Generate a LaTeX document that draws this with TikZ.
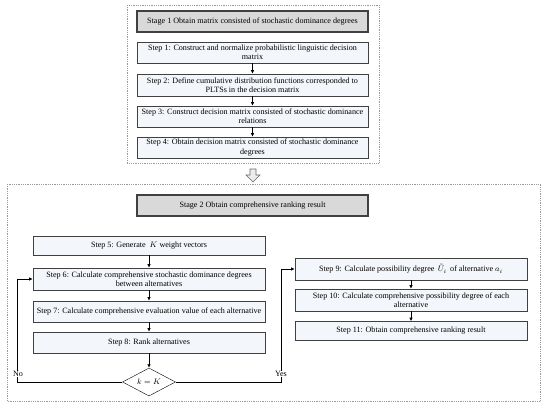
\documentclass[tikz,border=0pt]{standalone}
\usepackage{fontspec}
\setmainfont{Liberation Serif}
\usepackage{tikz}
\usetikzlibrary{arrows.meta}
\usetikzlibrary{shapes.geometric}
\usetikzlibrary{positioning}

\definecolor{boxfill}{HTML}{F3F6FA}
\definecolor{stagefill}{HTML}{D9D9D9}
\definecolor{boxline}{HTML}{404040}

\begin{document}
\begin{tikzpicture}[x=1pt, y=-1pt,
    every node/.style={font=\fontsize{8.1}{9.2}\selectfont},
    stepbox/.style={draw=boxline, fill=boxfill, line width=0.6pt, minimum width=231pt, minimum height=20pt, align=center, inner sep=0.8pt},
    stagebox/.style={draw=boxline, fill=stagefill, line width=1.1pt, minimum width=231pt, minimum height=21pt, align=center},
    testbox/.style={draw=black, fill=white, diamond, aspect=1.9, minimum width=53pt, minimum height=28pt, inner sep=0pt},
    frame/.style={draw=gray!80, dash pattern=on 0.8pt off 1pt, line width=0.6pt},
    flow/.style={-{Latex[length=3.5pt,width=3.5pt]}, line width=0.7pt},
    tag/.style={fill=white, inner sep=0.5pt}]
        \useasboundingbox (0,0) rectangle (550,413);
        \draw [frame] (127,5) rectangle (379,163);
        \draw [frame] (7,184) rectangle (540,401);

        \node [stagebox] (stage1) at (252.5,21.5) {Stage 1 Obtain matrix consisted of stochastic dominance degrees};
        \node [stepbox, minimum height=21pt] (step1) at (252.5,52.5) {Step 1: Construct and normalize probabilistic linguistic decision\\matrix};
        \node [stepbox, minimum height=22pt] (step2) at (252.5,85) {Step 2: Define cumulative distribution functions corresponded to\\PLTSs in the decision matrix};
        \node [stepbox, minimum height=21pt] (step3) at (252.5,116.5) {Step 3: Construct decision matrix consisted of stochastic dominance\\relations};
        \node [stepbox, minimum height=21pt] (step4) at (252.5,147.5) {Step 4: Obtain decision matrix consisted of stochastic dominance\\degrees};
        \draw [flow] (step1) -- (step2);
        \draw [flow] (step2) -- (step3);
        \draw [flow] (step3) -- (step4);

        \draw [draw=gray!80!black, fill=gray!15, line width=0.6pt] (250,169) -- (256,169) -- (256,175) -- (260,175) -- (253,182) -- (246,175) -- (250,175) -- cycle;

        \node [stagebox] (stage2) at (252.5,205.5) {Stage 2 Obtain comprehensive ranking result};
        \node [stepbox, minimum width=232pt, minimum height=19pt] (step5) at (149,245.5) {Step 5: Generate \ $K$ weight vectors};
        \node [stepbox, minimum width=232pt, minimum height=22pt] (step6) at (149,279) {Step 6: Calculate comprehensive stochastic dominance degrees\\between alternatives};
        \node [stepbox, minimum width=232pt, minimum height=21pt] (step7) at (149,311.5) {Step 7: Calculate comprehensive evaluation value of each alternative};
        \node [stepbox, minimum width=232pt, minimum height=21pt] (step8) at (149,342.5) {Step 8: Rank alternatives};
        \node [testbox] (test) at (149,382) {$k=K$};
        \draw [flow] (step5) -- (step6);
        \draw [flow] (step6) -- (step7);
        \draw [flow] (step7) -- (step8);
        \draw [flow] (step8) -- (test);

        \node [stepbox, minimum width=232pt, minimum height=22pt] (step9) at (411,269) {Step 9: Calculate possibility degree \,$\tilde{U}_{i}$\, of alternative $a_i$};
        \node [stepbox, minimum width=232pt, minimum height=22pt] (step10) at (411,300) {Step 10: Calculate comprehensive possibility degree of each\\alternative};
        \node [stepbox, minimum width=232pt, minimum height=19pt] (step11) at (411,331) {Step 11: Obtain comprehensive ranking result};
        \draw [flow] (step9) -- (step10);
        \draw [flow] (step10) -- (step11);

        \coordinate (nocorner) at (17,382);
        \coordinate (yescorner) at (281,382);
        \draw [flow] (test.west) -- (nocorner) |- (step6.west);
        \draw [flow] (test.east) -- (yescorner) |- (step9.west);
        \node [tag] (nolabel) at (18,374) {No};
        \node [tag] (yeslabel) at (281,374) {Yes};
\end{tikzpicture}
\end{document}
